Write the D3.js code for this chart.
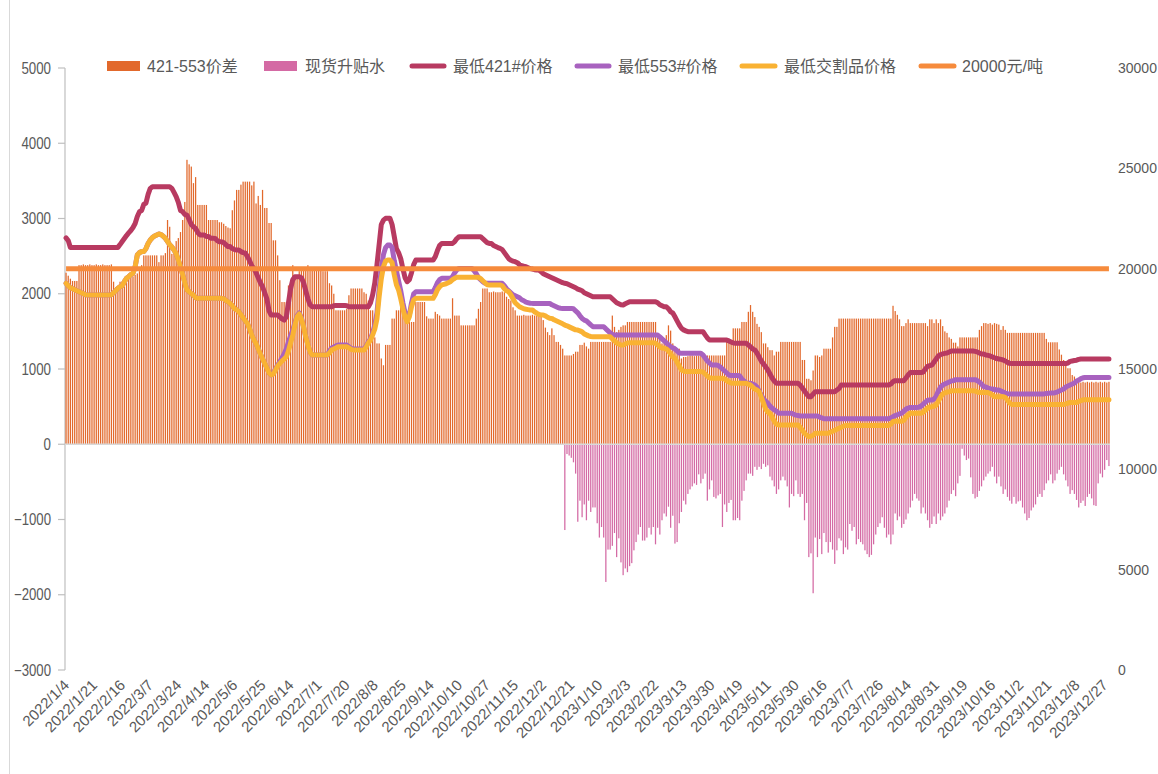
<!DOCTYPE html>
<html><head><meta charset="utf-8">
<script src="https://cdn.jsdelivr.net/npm/d3@7"></script>
<style>
body{margin:0;background:#fff;}
svg text{font-family:"Liberation Sans Narrow","Liberation Sans","Noto Sans CJK SC",sans-serif;fill:#595959;}
</style></head><body><svg id="c" width="1158" height="774"></svg>
<script>
// 421-553 spread (left axis)
const spread = [
2280,2240,2200,2170,2170,2170,2380,2380,2390,2380,
2380,2390,2380,2380,2390,2380,2380,2390,2380,2380,
2380,2390,2160,2090,2050,2160,2160,2090,2150,2200,
2220,2230,2250,2270,2300,2380,2510,2510,2510,2510,
2510,2510,2510,2420,2510,2510,2540,2980,2890,2530,
2620,2700,2740,2820,2980,3220,3780,3720,3690,3470,
3550,3180,3180,3180,3180,3180,2980,2980,2980,2980,
2980,2950,2950,2930,2900,2880,2870,3110,3240,3380,
3380,3450,3490,3490,3490,3490,3440,3490,3200,3300,
3180,3380,3140,3140,2940,2940,2710,2710,2510,2180,
1890,1890,1890,2110,2110,2380,2250,2200,2300,2330,
2350,2350,2380,2350,2330,2330,2310,2310,2310,2300,
2300,2300,2140,2110,2000,1780,1780,1780,1780,1780,
1800,1980,2070,2070,2070,2070,2070,2070,2020,2000,
1910,1780,1780,1420,1340,1340,1140,1050,1320,1320,
1320,1670,1670,1780,1780,2050,1760,1760,1760,1625,
1625,1625,1890,1890,1890,1890,1890,1700,1670,1670,
1670,1760,1730,1710,1670,1670,1670,1670,1670,1940,
1710,1710,1710,1580,1580,1580,1580,1580,1580,1580,
1670,1800,1890,2070,2070,2070,2020,2020,2030,2020,
2020,2020,2030,2020,1960,1930,1910,1820,1780,1710,
1710,1710,1720,1710,1710,1710,1720,1710,1710,1710,
1710,1650,1550,1490,1450,1540,1450,1360,1360,1320,
1270,1180,1180,1180,1180,1200,1230,1230,1320,1320,
1350,1300,1270,1360,1360,1360,1360,1360,1360,1360,
1360,1360,1360,1710,1560,1490,1520,1560,1580,1580,
1625,1625,1625,1625,1625,1625,1625,1625,1625,1625,
1625,1625,1625,1625,1450,1400,1340,1340,1450,1580,
1510,1340,1300,1270,1270,1140,1160,1160,1170,1180,
1180,1170,1180,1180,1180,1180,1180,1180,1180,1180,
1180,1180,1180,1180,1180,1180,1360,1380,1380,1540,
1540,1540,1540,1625,1625,1625,1760,1850,1760,1690,
1600,1560,1490,1340,1340,1290,1250,1250,1180,1230,
1230,1360,1360,1360,1360,1360,1360,1360,1360,1360,
1360,1120,1120,870,870,850,980,1180,1180,1160,
1180,1270,1270,1270,1270,1420,1560,1560,1670,1670,
1670,1670,1670,1670,1670,1670,1670,1670,1670,1670,
1670,1670,1670,1670,1670,1670,1670,1670,1670,1670,
1670,1670,1670,1840,1770,1720,1660,1570,1570,1610,
1660,1610,1610,1610,1610,1610,1610,1610,1610,1570,
1660,1660,1610,1660,1610,1660,1570,1500,1480,1420,
1400,1350,1350,1300,1420,1420,1420,1420,1420,1420,
1420,1420,1420,1520,1570,1610,1610,1600,1610,1590,
1610,1600,1590,1520,1570,1520,1480,1480,1480,1480,
1480,1480,1480,1480,1480,1480,1480,1480,1480,1480,
1480,1480,1480,1480,1400,1355,1355,1355,1355,1355,
1260,1190,1120,1060,1010,1010,920,900,830,830,
820,830,820,830,820,830,820,830,820,830,
820,830,820,830
];
// spot basis (left axis)
const basis = [
0,0,0,0,0,0,0,0,0,0, 0,0,0,0,0,0,0,0,0,0, 0,0,0,0,0,0,0,0,0,0,
0,0,0,0,0,0,0,0,0,0, 0,0,0,0,0,0,0,0,0,0, 0,0,0,0,0,0,0,0,0,0,
0,0,0,0,0,0,0,0,0,0, 0,0,0,0,0,0,0,0,0,0, 0,0,0,0,0,0,0,0,0,0,
0,0,0,0,0,0,0,0,0,0, 0,0,0,0,0,0,0,0,0,0, 0,0,0,0,0,0,0,0,0,0,
0,0,0,0,0,0,0,0,0,0, 0,0,0,0,0,0,0,0,0,0, 0,0,0,0,0,0,0,0,0,0,
0,0,0,0,0,0,0,0,0,0, 0,0,0,0,0,0,0,0,0,0, 0,0,0,0,0,0,0,0,0,0,
0,0,0,0,0,0,0,0,0,0, 0,0,0,0,0,0,0,0,0,0, 0,0,0,0,0,0,0,0,0,0,
0,0,0,0,0,0,0,0,0,0, 0,0,0,0,0,0,0,0,0,0,
0,-1140,-130,-150,-180,-240,-390,-1030,-750,-970,
-800,-1010,-750,-900,-840,-840,-1050,-1240,-1100,-1240,
-1830,-1400,-1400,-1350,-1180,-1500,-1250,-1570,-1740,-1650,
-1700,-1620,-1580,-1410,-1300,-1200,-1100,-1280,-1280,-1240,
-1110,-1200,-1100,-1330,-1110,-1200,-1010,-920,-960,-830,
-1110,-950,-1320,-1300,-1050,-900,-750,-800,-660,-600,
-560,-520,-540,-400,-520,-460,-390,-750,-600,-480,
-700,-720,-680,-660,-1100,-800,-900,-780,-740,-1010,
-1010,-980,-1010,-750,-620,-480,-390,-390,-420,-300,
-340,-300,-330,-260,-300,-280,-430,-480,-560,-660,
-600,-480,-430,-480,-560,-840,-660,-690,-480,-660,
-700,-660,-1010,-780,-1500,-1450,-1980,-1240,-1500,-1260,
-1460,-1180,-1300,-1440,-1300,-1400,-1590,-1410,-1250,-1280,
-1460,-1370,-1400,-1060,-1150,-1100,-1330,-1260,-1300,-1330,
-1410,-1460,-1500,-1470,-1330,-1200,-1100,-1050,-970,-1110,
-1240,-1200,-1330,-1200,-920,-1010,-960,-1110,-1060,-1000,
-920,-840,-750,-660,-720,-750,-920,-840,-920,-1010,
-1110,-1060,-960,-1060,-920,-1010,-960,-920,-840,-750,
-660,-610,-690,-520,-420,-60,-150,-210,-190,-440,
-660,-720,-700,-620,-560,-480,-430,-390,-360,-300,
-430,-520,-430,-560,-660,-600,-700,-750,-790,-700,
-790,-760,-750,-840,-920,-1010,-980,-880,-840,-800,
-700,-660,-700,-610,-520,-480,-400,-520,-480,-390,
-340,-300,-400,-480,-560,-660,-610,-660,-740,-840,
-780,-750,-820,-700,-660,-720,-810,-820,-520,-390,
-440,-340,-210,-290
];
// lowest 421# price (right axis)
const price421 = [
21530,21400,21060,21060,21060,21060,21060,21060,21060,21060,
21060,21060,21060,21060,21060,21060,21060,21060,21060,21060,
21060,21060,21060,21060,21060,21200,21350,21500,21650,21780,
21900,22050,22250,22600,22840,22900,23200,23270,23700,24000,
24080,24080,24080,24080,24080,24080,24080,24080,24080,24000,
23800,23590,23300,22900,22840,22700,22670,22450,22200,22090,
22000,21800,21680,21680,21680,21600,21600,21520,21520,21510,
21400,21340,21340,21300,21200,21100,21100,21000,20950,20930,
20930,20850,20800,20780,20600,20400,20150,20000,19800,19550,
19300,19100,18800,18500,17900,17690,17690,17690,17690,17600,
17500,17440,17600,18300,19000,19450,19600,19600,19600,19550,
19300,18900,18500,18200,18100,18100,18100,18100,18100,18100,
18100,18100,18100,18100,18150,18170,18170,18170,18170,18170,
18150,18100,18100,18100,18100,18100,18100,18100,18100,18100,
18100,18300,18700,19300,20200,21200,22200,22420,22510,22510,
22510,22200,21600,21000,20800,20500,20000,19550,19350,19450,
19800,20200,20430,20430,20430,20430,20430,20430,20430,20430,
20430,20600,20900,21150,21260,21260,21260,21260,21260,21260,
21350,21500,21590,21590,21590,21590,21590,21590,21590,21590,
21590,21590,21590,21500,21400,21300,21260,21260,21150,21100,
21050,21010,20950,20800,20650,20500,20420,20380,20350,20300,
20200,20150,20120,20100,20050,20000,19980,19950,19930,19930,
19850,19750,19700,19650,19600,19550,19500,19450,19400,19350,
19300,19270,19250,19200,19150,19100,19050,18980,18940,18900,
18800,18750,18700,18650,18600,18600,18600,18600,18600,18600,
18600,18600,18600,18500,18400,18300,18250,18200,18190,18250,
18300,18350,18350,18350,18350,18350,18350,18350,18350,18350,
18350,18350,18350,18350,18300,18200,18150,18100,18100,18000,
17850,17790,17600,17400,17200,17030,16950,16900,16860,16860,
16860,16860,16860,16860,16860,16860,16700,16550,16440,16440,
16440,16440,16440,16440,16440,16440,16440,16400,16350,16300,
16280,16280,16280,16280,16280,16280,16200,16100,16000,15950,
15800,15600,15400,15250,15110,14950,14750,14550,14400,14290,
14290,14290,14290,14290,14290,14290,14290,14290,14290,14290,
14200,14050,13900,13750,13620,13620,13750,13870,13870,13870,
13870,13870,13870,13870,13870,13870,13870,13950,14030,14200,
14200,14200,14200,14200,14200,14200,14200,14200,14200,14200,
14200,14200,14200,14200,14200,14200,14200,14200,14200,14200,
14200,14200,14250,14370,14420,14420,14420,14420,14420,14550,
14700,14820,14820,14820,14820,14820,14820,14850,15000,15130,
15170,15200,15350,15500,15650,15720,15750,15780,15800,15850,
15900,15900,15900,15900,15900,15900,15900,15900,15900,15900,
15900,15880,15850,15800,15750,15750,15700,15680,15650,15600,
15560,15520,15500,15480,15450,15400,15330,15280,15270,15270,
15270,15270,15270,15270,15270,15270,15270,15270,15270,15270,
15270,15270,15270,15270,15270,15270,15270,15270,15270,15270,
15270,15270,15270,15270,15300,15380,15400,15420,15440,15480,
15500,15500,15500,15500,15500,15500,15500,15500,15500,15500,
15500,15500,15500,15500
];
// lowest 553# price (right axis)
const price553 = [
19270,19150,19050,19000,18950,18900,18850,18800,18750,18700,
18690,18690,18690,18690,18690,18690,18690,18690,18690,18690,
18690,18700,18800,18900,19020,19100,19150,19350,19520,19600,
19700,19770,20100,20680,20800,20850,20850,21000,21250,21430,
21550,21630,21680,21730,21700,21620,21510,21350,21200,21080,
20930,20750,20430,20100,19700,19300,18940,18850,18750,18690,
18550,18520,18520,18520,18520,18520,18520,18520,18520,18520,
18520,18520,18520,18500,18420,18350,18270,18150,18000,17950,
17860,17700,17550,17400,17270,17000,16700,16450,16280,16000,
15750,15500,15280,15050,14800,14700,14800,15000,15200,15350,
15550,15750,16000,16350,16650,16950,17300,17650,17790,17550,
17100,16610,16200,15850,15700,15700,15700,15700,15700,15700,
15700,15700,15900,16050,16100,16150,16190,16190,16190,16190,
16190,16100,16030,16000,16000,16000,16000,16000,16000,16150,
16350,16500,16800,17200,17800,19000,20000,20700,21050,21180,
21180,21050,20400,19900,19400,18900,18300,17800,17500,17700,
18300,18750,18850,18850,18850,18850,18850,18850,18850,18850,
18850,19050,19300,19450,19520,19520,19520,19520,19520,19600,
19800,19950,20010,20010,20010,20010,20010,20010,20010,19900,
19750,19550,19450,19350,19270,19270,19270,19270,19270,19270,
19270,19270,19270,19150,19000,18900,18800,18700,18650,18600,
18550,18450,18400,18330,18300,18280,18270,18270,18270,18270,
18270,18270,18270,18270,18270,18200,18150,18100,18050,18030,
18020,18020,18020,18020,18020,18000,17900,17800,17650,17520,
17440,17400,17300,17200,17110,17110,17110,17110,17110,17110,
17000,16900,16800,16720,16690,16690,16690,16690,16690,16690,
16690,16690,16690,16690,16690,16690,16690,16690,16690,16690,
16690,16690,16690,16690,16690,16600,16500,16400,16300,16200,
16110,16060,16000,15900,15800,15780,15780,15780,15780,15780,
15780,15780,15780,15780,15780,15700,15550,15400,15300,15200,
15200,15200,15180,15100,15000,14900,14800,14700,14680,14680,
14680,14680,14650,14500,14400,14290,14290,14290,14250,14200,
14100,13900,13700,13500,13400,13300,13150,13050,12960,12900,
12800,12800,12800,12800,12800,12800,12800,12750,12700,12680,
12660,12660,12660,12660,12660,12660,12660,12660,12660,12600,
12560,12520,12520,12520,12520,12520,12520,12520,12520,12520,
12520,12520,12520,12520,12520,12520,12520,12520,12520,12520,
12520,12520,12520,12520,12520,12520,12520,12520,12520,12520,
12520,12520,12560,12620,12680,12720,12760,12800,12900,13000,
13050,13080,13080,13080,13080,13100,13150,13250,13350,13440,
13450,13450,13500,13650,13900,14100,14200,14250,14300,14350,
14400,14420,14470,14470,14470,14470,14470,14470,14470,14470,
14470,14470,14420,14350,14250,14120,14100,14050,14020,14000,
13980,13950,13950,13900,13850,13800,13770,13760,13760,13760,
13760,13760,13760,13760,13760,13760,13760,13760,13760,13760,
13760,13760,13760,13760,13780,13790,13800,13800,13820,13850,
13900,13950,14000,14100,14150,14200,14250,14300,14400,14450,
14520,14560,14580,14580,14580,14580,14580,14580,14580,14580,
14580,14580,14580,14580
];
// lowest deliverable price (right axis)
const priceDelivery = [
19270,19150,19050,19000,18950,18900,18850,18800,18750,18700,
18690,18690,18690,18690,18690,18690,18690,18690,18690,18690,
18690,18700,18800,18900,19020,19100,19150,19350,19520,19600,
19700,19770,20100,20680,20800,20850,20850,21000,21250,21430,
21550,21630,21680,21730,21700,21620,21510,21350,21200,21080,
20930,20750,20430,20100,19700,19300,18940,18850,18750,18690,
18550,18520,18520,18520,18520,18520,18520,18520,18520,18520,
18520,18520,18520,18500,18420,18350,18270,18150,18000,17950,
17860,17700,17550,17400,17270,17000,16700,16450,16280,16000,
15750,15500,15280,15050,14800,14700,14750,14950,15150,15280,
15400,15500,15610,15900,16300,16690,17200,17600,17740,17500,
17100,16610,16200,15850,15700,15700,15700,15700,15700,15700,
15700,15700,15800,15950,16000,16050,16110,16110,16110,16110,
16110,16050,15980,15950,15950,15950,15950,15950,15950,16100,
16300,16440,16700,17000,17500,18600,19500,20100,20380,20430,
20430,20300,19700,19200,18940,18500,18000,17600,17360,17600,
18100,18440,18520,18520,18520,18520,18520,18520,18520,18520,
18520,18700,18950,19100,19190,19220,19250,19300,19350,19450,
19520,19570,19570,19570,19570,19570,19570,19570,19570,19570,
19570,19570,19500,19400,19300,19200,19190,19190,19190,19190,
19190,19190,19150,19000,18900,18850,18700,18500,18300,18200,
18100,18050,18000,17980,17960,17940,17940,17850,17780,17720,
17690,17690,17650,17580,17530,17520,17450,17400,17350,17300,
17250,17190,17150,17100,17050,17000,16950,16940,16900,16850,
16750,16700,16650,16620,16610,16610,16610,16610,16610,16610,
16610,16610,16610,16500,16400,16300,16250,16190,16200,16250,
16300,16310,16310,16310,16310,16310,16310,16310,16310,16310,
16310,16310,16310,16280,16200,16100,16050,16030,16000,15900,
15750,15600,15530,15350,15150,14950,14900,14870,14870,14870,
14870,14870,14870,14870,14870,14850,14750,14650,14560,14540,
14540,14540,14540,14540,14540,14500,14420,14350,14300,14290,
14290,14290,14290,14290,14290,14290,14250,14200,14100,14000,
13950,13870,13600,13300,13000,12850,12790,12600,12400,12250,
12210,12210,12210,12210,12210,12210,12210,12210,12210,12210,
12100,11950,11800,11700,11630,11650,11700,11800,11800,11800,
11800,11800,11800,11800,11850,11900,11950,12000,12050,12100,
12150,12180,12190,12190,12190,12190,12190,12190,12190,12190,
12190,12190,12190,12190,12190,12190,12190,12190,12190,12190,
12190,12190,12250,12380,12400,12400,12400,12400,12450,12600,
12700,12800,12800,12800,12800,12800,12800,12850,12950,13050,
13100,13120,13150,13200,13400,13600,13750,13800,13850,13870,
13920,13920,13920,13920,13920,13920,13920,13920,13920,13920,
13920,13900,13850,13830,13830,13830,13830,13830,13780,13700,
13620,13620,13620,13620,13620,13580,13450,13300,13230,13230,
13230,13230,13230,13230,13230,13230,13230,13230,13230,13230,
13230,13230,13230,13230,13230,13230,13230,13230,13230,13230,
13230,13230,13230,13260,13300,13330,13330,13330,13330,13380,
13420,13470,13470,13470,13470,13470,13470,13470,13470,13470,
13470,13470,13470,13470
];
const refPrice = 20000;
const tickLabels = ["2022/1/4","2022/1/21","2022/2/16","2022/3/7","2022/3/24","2022/4/14","2022/5/6","2022/5/25","2022/6/14","2022/7/1","2022/7/20","2022/8/8","2022/8/25","2022/9/14","2022/10/10","2022/10/27","2022/11/15","2022/12/2","2022/12/21","2023/1/10","2023/2/3","2023/2/22","2023/3/13","2023/3/30","2023/4/19","2023/5/11","2023/5/30","2023/6/16","2023/7/7","2023/7/26","2023/8/14","2023/8/31","2023/9/19","2023/10/16","2023/11/2","2023/11/21","2023/12/8","2023/12/27"];
const tickStep = 13;
const leftTicks = [5000,4000,3000,2000,1000,0,-1000,-2000,-3000];
const rightTicks = [30000,25000,20000,15000,10000,5000,0];
const seriesNames = ["421-553价差","现货升贴水","最低421#价格","最低553#价格","最低交割品价格","20000元/吨"];
const colors = ["#E2692C","#D46AA4","#B83A61","#A862BF","#F9B233","#F68B3C"];

const W = 1158, H = 774;
const m = {left:65, right:1110, top:68, bottom:670};
const svg = d3.select("#c");
const cats = spread.map((d,i)=>i);
const x = d3.scaleBand().domain(cats).range([m.left, m.right]).paddingInner(0.42).paddingOuter(0.2);
const yL = d3.scaleLinear().domain([-3000,5000]).range([m.bottom, m.top]);
const yR = d3.scaleLinear().domain([0,30000]).range([m.bottom, m.top]);
const cx = i => x(i) + x.bandwidth()/2;

// outer border line on the left
svg.append("line").attr("x1",9.5).attr("x2",9.5).attr("y1",0).attr("y2",H).attr("stroke","#d9d9d9").attr("stroke-width",1);

// left axis
const gL = svg.append("g");
gL.append("line").attr("x1",m.left).attr("x2",m.left).attr("y1",yL(5000)).attr("y2",yL(-3000)).attr("stroke","#bfbfbf").attr("stroke-width",1.2);
leftTicks.forEach(t=>{
  gL.append("line").attr("x1",m.left-7).attr("x2",m.left).attr("y1",yL(t)).attr("y2",yL(t)).attr("stroke","#bfbfbf").attr("stroke-width",1.2);
  gL.append("text").attr("x",51).attr("y",yL(t)).attr("dy","0.35em").attr("text-anchor","end").attr("font-size",16)
    .attr("textLength",String(t).length*7.4).attr("lengthAdjust","spacingAndGlyphs").text(String(t).replace("-","−"));
});
// right axis labels
rightTicks.forEach(t=>{
  svg.append("text").attr("x",1118).attr("y",yR(t)).attr("dy","0.35em").attr("text-anchor","start").attr("font-size",14).text(t);
});

// bars
svg.append("g").selectAll("rect.s").data(cats).join("rect")
  .attr("x",i=>x(i)).attr("width",x.bandwidth())
  .attr("y",i=>yL(Math.max(0,spread[i]))).attr("height",i=>Math.abs(yL(spread[i])-yL(0)))
  .attr("fill",colors[0]);
svg.append("g").selectAll("rect.b").data(cats.filter(i=>basis[i]!==0)).join("rect")
  .attr("x",i=>x(i)).attr("width",x.bandwidth())
  .attr("y",yL(0)).attr("height",i=>Math.abs(yL(basis[i])-yL(0)))
  .attr("fill",colors[1]);

// zero axis line
svg.append("line").attr("x1",m.left).attr("x2",m.right).attr("y1",yL(0)).attr("y2",yL(0)).attr("stroke","#d9d9d9").attr("stroke-width",1.5);

// x tick labels
tickLabels.forEach((lab,k)=>{
  const xi = cx(k*tickStep);
  svg.append("text").attr("transform",`translate(${xi+4},${686}) rotate(-45)`)
    .attr("text-anchor","end").attr("font-size",15).text(lab);
});

// lines
const line = d3.line().x((d,i)=>cx(i)).y(d=>yR(d));
[[price421,2],[price553,3],[priceDelivery,4]].forEach(([arr,ci])=>{
  svg.append("path").attr("d",line(arr)).attr("fill","none").attr("stroke",colors[ci])
    .attr("stroke-width",5).attr("stroke-linejoin","round").attr("stroke-linecap","round");
});
svg.append("path").attr("d",line(cats.map(()=>refPrice))).attr("fill","none").attr("stroke",colors[5]).attr("stroke-width",5);

// legend
const leg = [
  {type:"rect",x0:107,x1:140,tx:147},
  {type:"rect",x0:264,x1:297,tx:305},
  {type:"line",x0:410,x1:446,tx:453},
  {type:"line",x0:575,x1:611,tx:618},
  {type:"line",x0:740,x1:777,tx:784},
  {type:"line",x0:919,x1:956,tx:962}
];
const ly = 66;
leg.forEach((l,k)=>{
  if(l.type==="rect") svg.append("rect").attr("x",l.x0).attr("y",ly-5).attr("width",l.x1-l.x0).attr("height",10).attr("fill",colors[k]);
  else svg.append("line").attr("x1",l.x0+2).attr("x2",l.x1-2).attr("y1",ly).attr("y2",ly).attr("stroke",colors[k]).attr("stroke-width",5).attr("stroke-linecap","round");
  svg.append("text").attr("x",l.tx).attr("y",ly).attr("dy","0.35em").attr("font-size",16).text(seriesNames[k]);
});
</script></body></html>
